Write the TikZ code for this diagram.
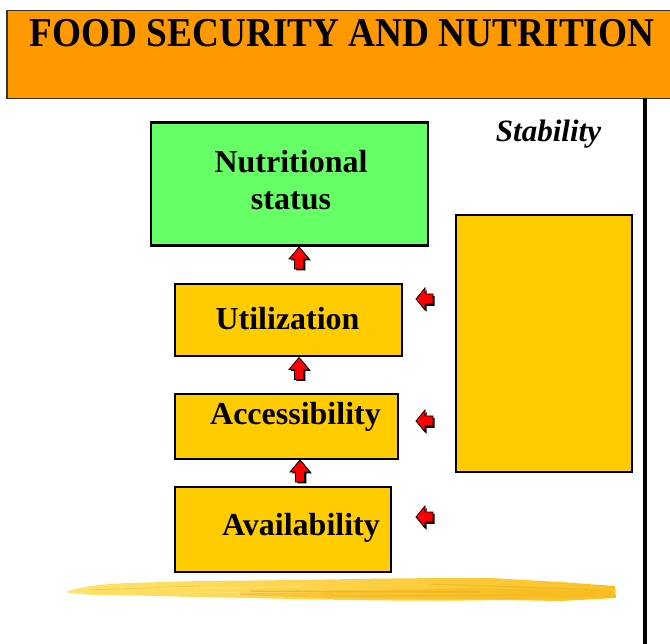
\documentclass[tikz,border=0pt]{standalone}
\usepackage{fontspec}
\setmainfont{Liberation Serif}
\definecolor{bannerorange}{HTML}{FF9900}
\definecolor{boxgreen}{HTML}{66FF66}
\definecolor{boxyellow}{HTML}{FFCC00}
\definecolor{brushA}{HTML}{FFE36A}
\definecolor{brushB}{HTML}{FAC024}
\definecolor{brushC}{HTML}{E3B22A}
\definecolor{brushD}{HTML}{F7B81C}
\definecolor{bannerline}{HTML}{333333}
\tikzset{
  box/.style={draw=black, line width=2.5pt, inner sep=0pt, fill=boxyellow},
  lbl/.style={font=\fontsize{32}{36}\selectfont\bfseries, anchor=base, inner sep=0pt},
  uparr/.pic={
    \begin{scope}[shift={(1.8,1.4)}]
      \fill[black] (0,0)--(10,12)--(4.5,12)--(4.5,22)--(-4.5,22)--(-4.5,12)--(-10,12)--cycle;
    \end{scope}
    \filldraw[fill=red, draw=black, line width=0.8pt] (0,0)--(10,12)--(4.5,12)--(4.5,22)--(-4.5,22)--(-4.5,12)--(-10,12)--cycle;
  },
  leftarr/.pic={
    \begin{scope}[shift={(1.6,1.8)}]
      \fill[black] (0,0)--(9,-11)--(9,-5)--(17,-5)--(17,5)--(9,5)--(9,11)--cycle;
    \end{scope}
    \filldraw[fill=red, draw=black, line width=0.8pt] (0,0)--(9,-11)--(9,-5)--(17,-5)--(17,5)--(9,5)--(9,11)--cycle;
  }
}
\begin{document}
\begin{tikzpicture}[x=1pt,y=-1pt]
\useasboundingbox (0,0) rectangle (670,644);
% banner
\node[draw=bannerline, line width=1.5pt, fill=bannerorange, minimum width=666pt, minimum height=88pt, anchor=north west, inner sep=0pt] (banner) at (6,10) {};
\node[font=\fontsize{41}{41}\selectfont\bfseries, anchor=base, inner sep=0pt] (title) at (342,47) {\scalebox{0.91}[1]{FOOD SECURITY AND NUTRITION}};
% vertical line
\coordinate (vtop) at (645,98);
\coordinate (vbot) at (645,644);
\draw[line width=4pt] (vtop) -- (vbot);
% boxes
\node[box, fill=boxgreen, minimum width=277pt, minimum height=123pt] (nutr) at (289.5,184) {};
\node[box, minimum width=227pt, minimum height=72pt] (util) at (288.5,320) {};
\node[box, minimum width=223pt, minimum height=65pt] (acc) at (286.5,426.5) {};
\node[box, minimum width=216pt, minimum height=85pt] (avail) at (283,529.5) {};
\node[box, minimum width=176pt, minimum height=257pt] (stabbox) at (544,343.5) {};
% labels
\node[lbl] (nutrt1) at (291,173) {Nutritional};
\node[lbl] (nutrt2) at (291,210) {status};
\node[lbl] (utilt) at (287.5,330) {Utilization};
\node[lbl] (acct) at (295.5,425) {Accessibility};
\node[lbl] (availt) at (301,535) {Availability};
\node[font=\fontsize{31}{32}\selectfont\bfseries\itshape, anchor=base, inner sep=0pt] (stab) at (548.5,142) {Stability};
% up arrows
\pic at (299,247) {uparr};
\pic at (299,357.5) {uparr};
\pic at (300,460) {uparr};
% left arrows
\pic at (416,299) {leftarr};
\pic at (416,421) {leftarr};
\pic at (416,517) {leftarr};
% brush stroke
\shade[left color=brushA, right color=brushB] (65,592) .. controls (80,587) and (100,584) .. (130,583) -- (200,581) -- (300,580) .. controls (400,578) and (450,578) .. (490,578) -- (560,582) -- (615,586) -- (616,598) -- (560,601) -- (500,600) .. controls (400,602) and (300,599) .. (200,597) -- (110,595) .. controls (90,595) and (75,594) .. cycle;
\fill[brushD, opacity=0.55] (240,592) -- (380,590) -- (480,588) -- (560,590) -- (612,592) -- (612,597) -- (500,599) -- (330,598) -- (240,595) -- cycle;
\draw[brushC, line width=1.5pt, opacity=0.6] (250,591) -- (480,592);
\draw[brushC, line width=1pt, opacity=0.5] (330,596) -- (560,595);
\draw[brushC, line width=1.2pt, opacity=0.55] (430,584) -- (600,590);
\draw[white, line width=0.6pt, opacity=0.5] (120,588) -- (300,587);
\draw[white, line width=0.5pt, opacity=0.4] (180,592) -- (320,593);
\draw[brushC, line width=0.6pt, opacity=0.5] (90,590) -- (200,586);
\end{tikzpicture}
\end{document}
